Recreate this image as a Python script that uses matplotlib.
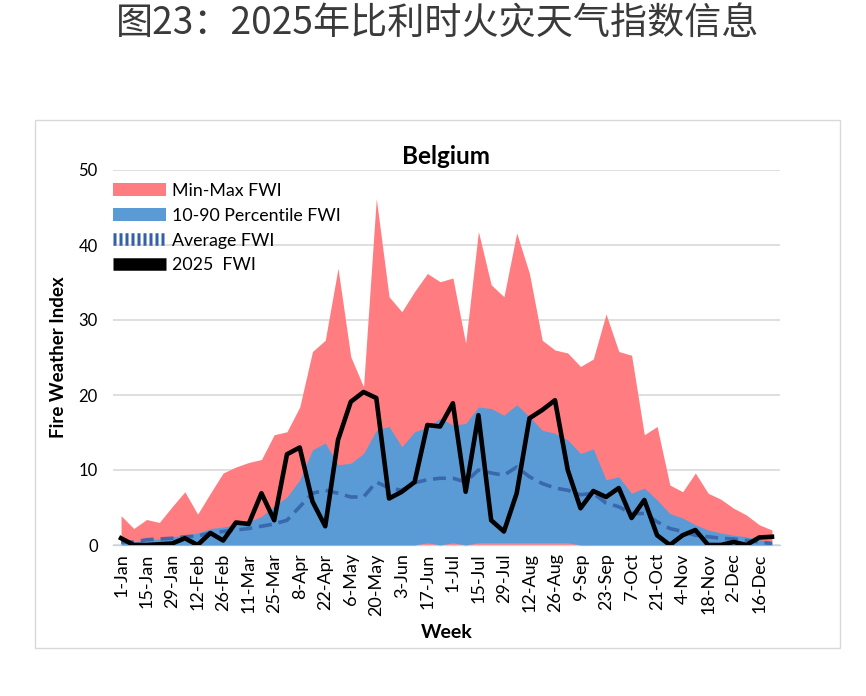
import matplotlib
matplotlib.use("Agg")
import matplotlib.pyplot as plt
from matplotlib.patches import Rectangle, Patch
from matplotlib.lines import Line2D
import numpy as np

weeks = list(range(52))
tick_labels = ["1-Jan", "15-Jan", "29-Jan", "12-Feb", "26-Feb", "11-Mar", "25-Mar",
               "8-Apr", "22-Apr", "6-May", "20-May", "3-Jun", "17-Jun", "1-Jul",
               "15-Jul", "29-Jul", "12-Aug", "26-Aug", "9-Sep", "23-Sep", "7-Oct",
               "21-Oct", "4-Nov", "18-Nov", "2-Dec", "16-Dec"]

min_fwi = [0.0] * 52
max_fwi = [3.9, 2.2, 3.4, 3.0, 5.1, 7.1, 4.1, 6.9, 9.6, 10.4, 11.0, 11.4, 14.7, 15.1,
           18.4, 25.8, 27.3, 36.9, 25.1, 21.1, 46.2, 33.1, 31.1, 33.8, 36.2, 35.1,
           35.6, 26.9, 41.8, 34.7, 33.1, 41.6, 36.2, 27.3, 26.0, 25.6, 23.8, 24.8,
           30.8, 25.8, 25.3, 14.7, 15.8, 8.0, 7.1, 9.6, 6.9, 6.1, 4.9, 4.0, 2.7, 2.0]
p10_fwi = [0, 0, 0, 0, 0, 0, 0, 0, 0, 0, 0, 0, 0, 0, 0, 0, 0, 0, 0, 0, 0, 0, 0, 0,
           0.3, 0, 0.3, 0, 0.3, 0.3, 0.3, 0.3, 0.3, 0.3, 0.3, 0.3, 0, 0, 0, 0, 0, 0,
           0, 0, 0, 0, 0, 0, 0, 0, 0, 0]
p90_fwi = [0.7, 0.4, 0.7, 0.8, 1.1, 1.3, 1.6, 2.2, 2.4, 2.7, 3.1, 3.8, 5.2, 6.4, 8.7,
           12.7, 13.6, 10.7, 10.9, 12.2, 15.3, 15.8, 13.1, 15.1, 15.7, 16.9, 16.0,
           16.2, 18.4, 18.2, 17.3, 18.7, 17.1, 15.3, 14.9, 14.0, 12.2, 12.8, 8.7, 9.1,
           6.9, 7.6, 6.0, 4.2, 3.6, 2.7, 2.0, 1.6, 1.3, 1.1, 0.7, 0.4]
avg_fwi = [0.4, 0.4, 0.7, 0.8, 0.9, 1.1, 1.2, 1.6, 1.8, 2.0, 2.2, 2.5, 2.8, 3.3, 5.1,
           6.9, 7.3, 6.9, 6.4, 6.4, 8.4, 7.6, 7.3, 8.3, 8.7, 8.9, 8.9, 8.4, 10.0, 9.6,
           9.3, 10.4, 9.1, 8.2, 7.6, 7.3, 6.7, 6.9, 5.6, 5.1, 4.2, 4.2, 3.1, 2.2, 1.8,
           1.3, 1.1, 0.9, 0.8, 0.6, 0.4, 0.2]
fwi_2025 = [0.9, 0, 0, 0.1, 0.2, 0.9, 0, 1.6, 0.6, 3.0, 2.8, 6.9, 3.3, 12.1, 13.0, 5.8,
            2.5, 14.0, 19.1, 20.4, 19.6, 6.2, 7.1, 8.4, 16.0, 15.8, 18.9, 7.1, 17.3,
            3.3, 1.8, 6.9, 16.9, 18.0, 19.3, 10.0, 4.9, 7.2, 6.4, 7.6, 3.6, 6.0, 1.3,
            0, 1.3, 2.0, 0, 0, 0.4, 0, 1.0, 1.1]

RED = "#FF7C80"
BLUE = "#5B9BD5"
DBLUE = "#3360A6"
CH = "Lato"

fig = plt.figure(figsize=(8.66, 6.96), dpi=100)

# outer chart frame
fig.patches.append(Rectangle((35 / 866, 1 - 648 / 696), (840 - 35) / 866, (648 - 120) / 696,
                             transform=fig.transFigure, fill=False,
                             edgecolor="#D9D9D9", linewidth=1.0))

fig.text(0.505, 0.966, "图23：2025年比利时火灾天气指数信息",
         family=["Noto Sans CJK SC", "DejaVu Sans"], weight="light",
         fontsize=26.7, ha="center", va="center", color="#3a3a3a")

ax = fig.add_axes([113 / 866, 1 - 545 / 696, (780 - 113) / 866, (545 - 170) / 696])
x = np.array(weeks)
ax.fill_between(x, min_fwi, max_fwi, color=RED, linewidth=0, zorder=2)
ax.fill_between(x, p10_fwi, p90_fwi, color=BLUE, linewidth=0, zorder=3)
ax.plot(x, avg_fwi, color=DBLUE, linewidth=2.6, dashes=(3.6, 1.9), alpha=0.85, zorder=4)
ax.plot(x, fwi_2025, color="black", linewidth=3.3, zorder=5)

ax.set_xlim(-0.63, 51.63)
ax.set_ylim(0, 50)
ax.set_yticks([0, 10, 20, 30, 40, 50])
ax.set_xticks(range(0, 52, 2))
ax.set_xticklabels(tick_labels, rotation=90, family=CH, fontsize=13)
for lab in ax.get_yticklabels():
    lab.set_family(CH)
    lab.set_fontsize(12)
ax.tick_params(axis="both", length=0)
ax.tick_params(axis="y", pad=11)
ax.tick_params(axis="x", pad=6)
ax.grid(axis="y", color="#D9D9D9", linewidth=1.2, zorder=0)
ax.set_axisbelow(True)
for s in ["top", "right", "left"]:
    ax.spines[s].set_visible(False)
ax.spines["bottom"].set_color("#BDD7EE")
ax.spines["bottom"].set_linewidth(1.0)

ax.set_title("Belgium", family=CH, fontweight="bold", fontsize=17.5, pad=4)
ax.set_xlabel("Week", family=CH, fontweight="bold", fontsize=14, labelpad=6)
ax.set_ylabel("Fire Weather Index", family=CH, fontweight="bold", fontsize=13.5, labelpad=8)

handles = [
    Patch(facecolor=RED, edgecolor="none"),
    Patch(facecolor=BLUE, edgecolor="none"),
    Line2D([0], [0], color=DBLUE, linewidth=9, dashes=(0.24, 0.24)),
    Line2D([0], [0], color="black", linewidth=9, solid_capstyle="butt"),
]
labels = ["Min-Max FWI", "10-90 Percentile FWI", "Average FWI", "2025  FWI"]
leg = ax.legend(handles, labels, loc="upper left", bbox_to_anchor=(0.0, 0.966),
                frameon=False, prop={"family": CH, "size": 12.8},
                handlelength=3.0, handleheight=0.7, handletextpad=0.3,
                labelspacing=0.5, borderpad=0.0, borderaxespad=0.0)

fig.savefig("out.png", dpi=100)
